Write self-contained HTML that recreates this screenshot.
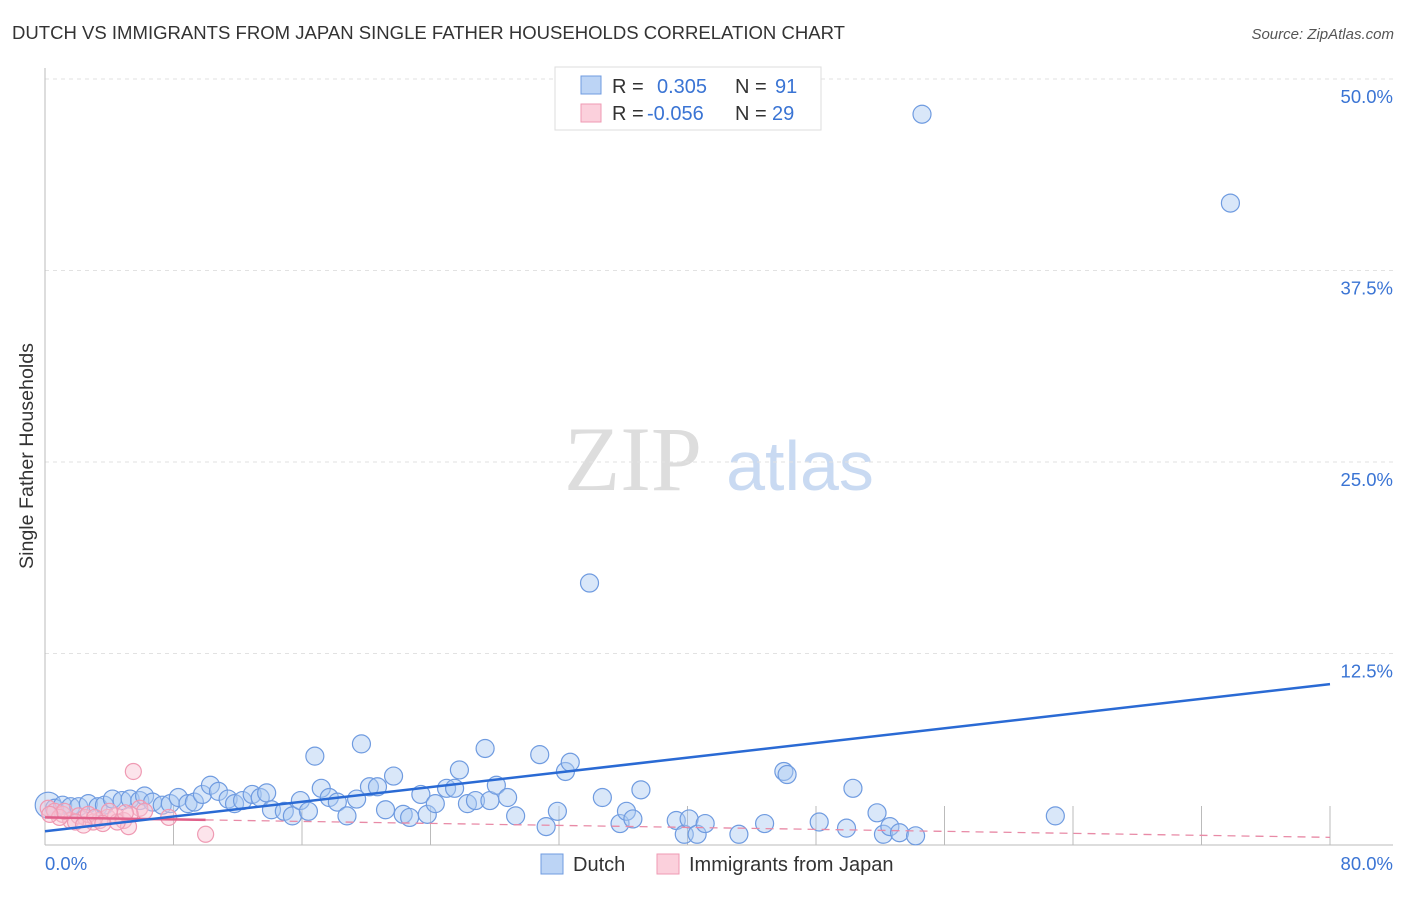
<!DOCTYPE html>
<html><head><meta charset="utf-8"><style>
body{margin:0;background:#fff;font-family:"Liberation Sans",sans-serif;}
svg text{font-family:"Liberation Sans",sans-serif;}
</style></head><body>
<svg id="c" width="1406" height="892">
<text x="12" y="39" font-size="18" fill="#333" textLength="833" lengthAdjust="spacingAndGlyphs">DUTCH VS IMMIGRANTS FROM JAPAN SINGLE FATHER HOUSEHOLDS CORRELATION CHART</text>
<text x="1394" y="39" font-size="15" fill="#555" font-style="italic" text-anchor="end">Source: ZipAtlas.com</text>
<text x="33" y="456" font-size="19" fill="#333" text-anchor="middle" textLength="226" lengthAdjust="spacingAndGlyphs" transform="rotate(-90 33 456)">Single Father Households</text>
<g>
<text x="633" y="490" font-size="92" fill="#ddd" text-anchor="middle" font-family="Liberation Serif" style="font-family:'Liberation Serif',serif">ZIP</text>
<text x="800" y="490" font-size="70" fill="#c9daf2" text-anchor="middle">atlas</text>
</g>
<g id="grid"></g><g id="axes"></g><g id="marks"></g>
<g>
<rect x="555" y="67" width="266" height="63" fill="#fff" stroke="#ddd"/>
<rect x="581" y="76" width="20" height="18" fill="#bcd4f5" stroke="#6f9be0"/>
<rect x="581" y="104" width="20" height="18" fill="#fbd0dc" stroke="#ef9ab3"/>
<text x="612" y="93" font-size="20" fill="#333">R = <tspan fill="#3a74d4" x="657">0.305</tspan><tspan fill="#333" x="735">N = </tspan><tspan fill="#3a74d4" x="775">91</tspan></text>
<text x="612" y="120" font-size="20" fill="#333">R = <tspan fill="#3a74d4" x="647">-0.056</tspan><tspan fill="#333" x="735">N = </tspan><tspan fill="#3a74d4" x="772">29</tspan></text>
</g>
<g>
<rect x="541" y="854" width="22" height="20" fill="#bcd4f5" stroke="#6f9be0"/>
<text x="573" y="871" font-size="20" fill="#333">Dutch</text>
<rect x="657" y="854" width="22" height="20" fill="#fbd0dc" stroke="#ef9ab3"/>
<text x="689" y="871" font-size="20" fill="#333">Immigrants from Japan</text>
</g>
</svg>
<script>
const xTicks=[0,8,16,24,32,40,48,56,64,72,80];
const yTicks=[12.5,25,37.5,50];
const yTickLabels=["12.5%","25.0%","37.5%","50.0%"];
const xEndLabels=["0.0%","80.0%"];
const dutchX=[0.2,0.6,1.1,1.6,2.1,2.7,3.3,3.7,4.2,4.8,5.3,5.9,6.2,6.7,7.3,7.8,8.3,8.9,9.3,9.8,10.3,10.8,11.4,11.8,12.3,12.9,13.4,13.8,14.1,14.9,15.4,15.9,16.4,16.8,17.2,17.7,18.2,18.8,19.4,19.7,20.2,20.7,21.2,21.7,22.3,22.7,23.4,23.8,24.3,25.0,25.5,25.8,26.3,26.8,27.4,27.7,28.1,28.8,29.3,30.8,31.2,31.9,32.4,32.7,33.9,34.7,35.8,36.2,36.6,37.1,39.3,39.8,40.1,40.6,41.1,43.2,44.8,46.0,46.2,48.2,49.9,50.3,51.8,52.2,52.6,53.2,54.2,54.6,62.9,73.8];
const dutchY=[2.6,2.4,2.6,2.5,2.5,2.7,2.5,2.6,3.0,2.9,3.0,2.9,3.2,2.8,2.6,2.7,3.1,2.7,2.8,3.3,3.9,3.5,3.0,2.7,2.9,3.3,3.1,3.4,2.3,2.2,1.9,2.9,2.2,5.8,3.7,3.1,2.8,1.9,3.0,6.6,3.8,3.8,2.3,4.5,2.0,1.8,3.3,2.0,2.7,3.7,3.7,4.9,2.7,2.9,6.3,2.9,3.9,3.1,1.9,5.9,1.2,2.2,4.8,5.4,17.1,3.1,1.4,2.2,1.7,3.6,1.6,0.7,1.7,0.7,1.4,0.7,1.4,4.8,4.6,1.5,1.1,3.7,2.1,0.7,1.2,0.8,0.6,47.7,1.9,41.9];
const japanX=[0.2,0.6,1.1,1.6,2.1,2.5,3.0,3.4,3.9,4.4,4.9,5.2,5.5,5.9,6.2,7.7,10.0,0.9,2.7,4.5,4.0,1.9,3.1,5.3,1.2,3.6,5.0,0.3,2.4];
const japanY=[2.4,2.2,2.0,1.6,1.9,1.8,1.5,1.6,1.8,1.9,1.6,1.2,4.8,2.4,2.2,1.8,0.7,1.8,2.0,1.5,2.2,1.5,1.8,2.0,2.2,1.4,2.1,2.0,1.3];
const dutchTrend=[0.9,10.5];
const japanTrend=[1.8,0.5];
const japanSolidEnd=10;
const NS="http://www.w3.org/2000/svg";
const X=v=>45+v*(1285/80);
const Y=v=>845-v*(766/50);
function mk(p,t,a){const e=document.createElementNS(NS,t);for(const k in a)e.setAttribute(k,a[k]);p.appendChild(e);return e;}
const grid=document.getElementById('grid'),axes=document.getElementById('axes'),marks=document.getElementById('marks');
yTicks.forEach((t,i)=>{
 const l=mk(grid,'line',{x1:45,x2:1393,y1:Y(t),y2:Y(t),stroke:'#e2e2e2','stroke-dasharray':'4 4'});
 
 
 const tx=mk(axes,'text',{x:1393,y:Y(t)+24,'font-size':18.5,fill:'#3a74d4','text-anchor':'end'});
 tx.textContent=yTickLabels[i];
 
 
});
const ax=mk(axes,'line',{x1:45,x2:45,y1:68,y2:845,stroke:'#bbb'});


const bx=mk(axes,'line',{x1:45,x2:1393,y1:845,y2:845,stroke:'#bbb'});


xTicks.slice(1).forEach(t=>{
 const l=mk(axes,'line',{x1:X(t),x2:X(t),y1:806,y2:845,stroke:'#bbb'});
 
 
});
[[0,'start',45],[80,'end',1393]].forEach((d,i)=>{
 const tx=mk(axes,'text',{x:d[2],y:870,'font-size':18.5,fill:'#3a74d4','text-anchor':d[1]});
 tx.textContent=xEndLabels[i];
 
 
});
dutchX.forEach((x,i)=>{
 const c=mk(marks,'circle',{cx:X(x),cy:Y(dutchY[i]),r:i==0?13:9,fill:'rgba(170,202,242,0.45)',stroke:'#6f9be0','stroke-width':1.2});
 
 
});
japanX.forEach((x,i)=>{
 const c=mk(marks,'circle',{cx:X(x),cy:Y(japanY[i]),r:8,fill:'rgba(248,195,210,0.45)',stroke:'#ef9ab3','stroke-width':1.2});
 
 
});
const jt=v=>japanTrend[0]+(japanTrend[1]-japanTrend[0])*v/80;
const jd=mk(marks,'line',{x1:X(japanSolidEnd),y1:Y(jt(japanSolidEnd)),x2:X(80),y2:Y(jt(80)),stroke:'#e88aa6','stroke-width':1.3,'stroke-dasharray':'8 6'});


const js=mk(marks,'line',{x1:X(0),y1:Y(jt(0)),x2:X(japanSolidEnd),y2:Y(jt(japanSolidEnd)),stroke:'#e0608a','stroke-width':2.5});


const dt=mk(marks,'line',{x1:X(0),y1:Y(dutchTrend[0]),x2:X(80),y2:Y(dutchTrend[1]),stroke:'#2a6ad4','stroke-width':2.5});


</script>
</body></html>
